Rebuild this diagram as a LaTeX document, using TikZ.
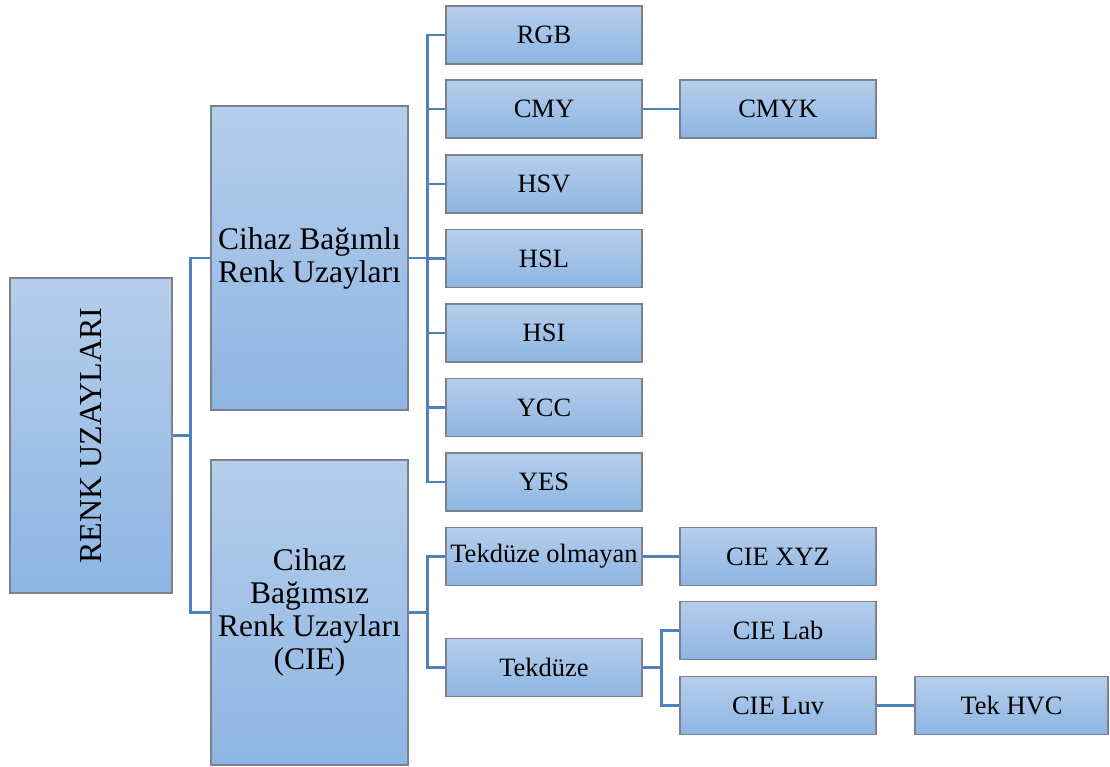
\documentclass[tikz,border=0pt]{standalone}
\usepackage{fontspec}
\setmainfont{Liberation Serif}
\definecolor{boxtop}{RGB}{181,206,235}
\definecolor{boxbot}{RGB}{142,181,227}
\definecolor{boxline}{RGB}{125,130,138}
\definecolor{conncol}{RGB}{79,129,189}
\begin{document}
\begin{tikzpicture}[x=1pt,y=1pt,
  box/.style={draw=boxline, line width=1.1pt, top color=boxtop, bottom color=boxbot,
    inner sep=0pt, align=center, font=\fontsize{26.5}{29}\selectfont},
  small/.style={box, minimum width=196pt, minimum height=58pt},
  big/.style={box, minimum width=197pt, minimum height=304pt, font=\fontsize{31.5}{33}\selectfont},
  conn/.style={draw=conncol, line width=2.2pt}]
\useasboundingbox (0,0) rectangle (1110,767);
% root
\node[box, minimum width=162pt, minimum height=315pt] (renk) at (91,331.5)
  {\rotatebox{90}{\fontsize{32}{34}\selectfont RENK UZAYLARI}};
% level 1
\node[big] (dep) at (309.5,509) {Cihaz Bağımlı\\Renk Uzayları};
\node[big, minimum height=305pt] (indep) at (309.5,154.5) {Cihaz\\Bağımsız\\Renk Uzayları\\(CIE)};
% level 2
\node[small] (rgb) at (544,732) {RGB};
\node[small] (cmy) at (544,658) {CMY};
\node[small] (hsv) at (544,583) {HSV};
\node[small] (hsl) at (544,508.5) {HSL};
\node[small] (hsi) at (544,434) {HSI};
\node[small] (ycc) at (544,359.5) {YCC};
\node[small] (yes) at (544,285) {YES};
\node[small] (nonu) at (544,210.5) {Tekdüze olmayan};
\node[small] (unif) at (544,99.5) {Tekdüze};
% level 3
\node[small] (cmyk) at (778,658) {CMYK};
\node[small] (xyz) at (778,210.5) {CIE XYZ};
\node[small] (lab) at (778,136.5) {CIE Lab};
\node[small] (luv) at (778,61.5) {CIE Luv};
% level 4
\node[small, minimum width=193pt] (hvc) at (1011.5,61.5) {Tek HVC};
% connectors
\draw[conn] (renk.east) -- ++(18,0) |- (dep.west);
\draw[conn] (renk.east) -- ++(18,0) |- (indep.west);
\foreach \c in {rgb,cmy,hsv,hsl,hsi,ycc,yes}
  \draw[conn] (dep.east) -- ++(19,0) |- (\c.west);
\draw[conn] (indep.east) -- ++(19,0) |- (nonu.west);
\draw[conn] (indep.east) -- ++(19,0) |- (unif.west);
\draw[conn] (cmy) -- (cmyk);
\draw[conn] (nonu) -- (xyz);
\draw[conn] (unif.east) -- ++(19,0) |- (lab.west);
\draw[conn] (unif.east) -- ++(19,0) |- (luv.west);
\draw[conn] (luv) -- (hvc);
\end{tikzpicture}
\end{document}
